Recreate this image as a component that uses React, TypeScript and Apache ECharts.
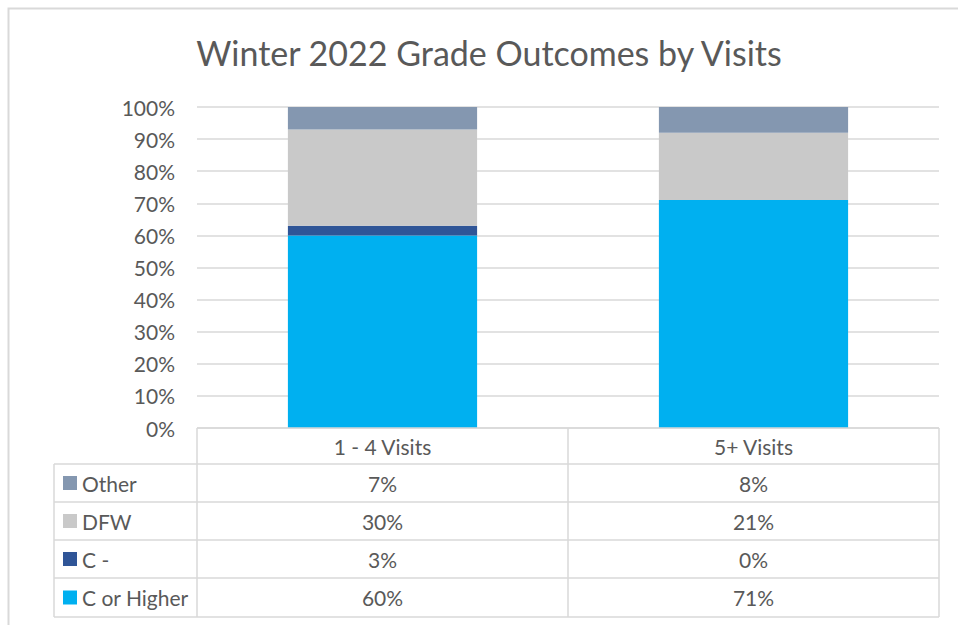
import React, { useEffect, useRef } from "react";
import * as echarts from "echarts";

const title = "Winter 2022 Grade Outcomes by Visits";
const categories = ["1 - 4 Visits", "5+ Visits"];
const seriesNames = ["C or Higher", "C -", "DFW", "Other"];
const cOrHigher = [60, 71];
const cMinus = [3, 0];
const dfw = [30, 21];
const other = [7, 8];
const yTicks = { min: 0, max: 100, interval: 10 };

const COLORS = ["#00B0F0", "#2F5597", "#C9C9C9", "#8497B0"];
const FONT = "Lato, 'Open Sans', sans-serif";
const TEXT = "#595959";
const LINE = "#D9D9D9";
const FS = 21;

export default function App() {
  const ref = useRef<HTMLDivElement>(null);
  useEffect(() => {
    if (!ref.current) return;
    const chart = echarts.init(ref.current, undefined, { renderer: "svg" });
    const values = [cOrHigher, cMinus, dfw, other];

    // layout
    const gridL = 197, gridR = 939, gridT = 107, gridB = 428;
    const tableL = 54;
    const colDiv = (gridL + gridR) / 2;
    const rowH = [428, 464, 502, 540, 578, 617];
    const colCenters = [(gridL + colDiv) / 2, (colDiv + gridR) / 2];

    const graphics: any[] = [];
    graphics.push({
      type: "rect",
      shape: { x: 8.5, y: 8.5, width: 1000, height: 700 },
      style: { fill: "none", stroke: LINE, lineWidth: 2 },
      silent: true,
    });
    graphics.push({
      type: "text",
      x: 489,
      y: 52,
      style: {
        text: title,
        fill: TEXT,
        font: `34px ${FONT}`,
        textAlign: "center",
        textVerticalAlign: "middle",
      },
      silent: true,
    });
    const ln = (x1: number, y1: number, x2: number, y2: number) => ({
      type: "line",
      shape: { x1, y1, x2, y2 },
      style: { stroke: LINE, lineWidth: 1.5 },
      silent: true,
      z: 10,
    });
    graphics.push(ln(gridL, rowH[0], gridR, rowH[0]));
    for (let i = 1; i < rowH.length; i++) graphics.push(ln(tableL, rowH[i], gridR, rowH[i]));
    graphics.push(ln(gridL, rowH[0], gridL, rowH[5]));
    graphics.push(ln(colDiv, rowH[0], colDiv, rowH[5]));
    graphics.push(ln(gridR, rowH[0], gridR, rowH[5]));
    graphics.push(ln(tableL, rowH[1], tableL, rowH[5]));

    const order = [3, 2, 1, 0];
    order.forEach((si, r) => {
      const yc = (rowH[r + 1] + rowH[r + 2]) / 2;
      graphics.push({
        type: "rect",
        shape: { x: 63, y: yc - 7, width: 14, height: 14 },
        style: { fill: COLORS[si] },
        silent: true,
      });
      graphics.push({
        type: "text",
        x: 82,
        y: yc,
        style: {
          text: seriesNames[si],
          fill: TEXT,
          font: `${FS}px ${FONT}`,
          textVerticalAlign: "middle",
          textAlign: "left",
        },
        silent: true,
      });
      categories.forEach((_, ci) => {
        graphics.push({
          type: "text",
          x: colCenters[ci],
          y: yc,
          style: {
            text: `${values[si][ci]}%`,
            fill: TEXT,
            font: `${FS}px ${FONT}`,
            textVerticalAlign: "middle",
            textAlign: "center",
          },
          silent: true,
        });
      });
    });

    chart.setOption({
      animation: false,
      grid: { left: gridL, right: 958 - gridR, top: gridT, bottom: 625 - gridB, containLabel: false },
      xAxis: {
        type: "category",
        data: categories,
        axisLine: { show: false },
        axisTick: { show: false },
        axisLabel: { color: TEXT, fontFamily: FONT, fontSize: FS, margin: 8 },
      },
      yAxis: {
        type: "value",
        min: yTicks.min,
        max: yTicks.max,
        interval: yTicks.interval,
        axisLine: { show: false },
        axisTick: { show: false },
        axisLabel: { color: TEXT, fontFamily: FONT, fontSize: FS, margin: 22, formatter: "{value}%" },
        splitLine: { lineStyle: { color: LINE, width: 1.5 } },
      },
      series: seriesNames.map((name, i) => ({
        name,
        type: "bar",
        stack: "total",
        barWidth: "51%",
        data: values[i],
        itemStyle: { color: COLORS[i] },
      })),
      graphic: graphics,
    });
    return () => chart.dispose();
  }, []);
  return (
    <div
      ref={ref}
      style={{ position: "absolute", left: 0, top: 0, width: 958, height: 625, background: "#fff" }}
    />
  );
}
